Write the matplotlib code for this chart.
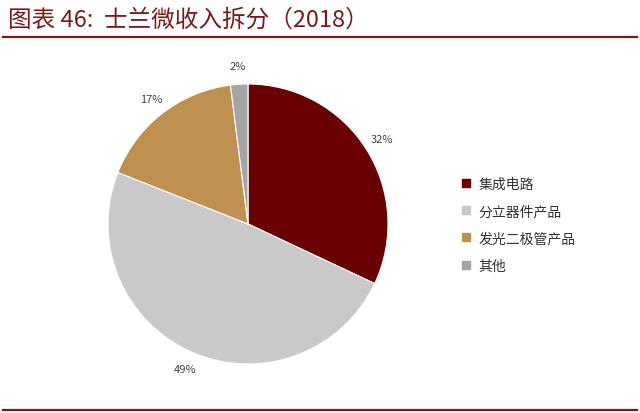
import matplotlib.pyplot as plt
from matplotlib.lines import Line2D

plt.rcParams['font.family'] = ['Noto Sans CJK SC', 'DejaVu Sans']

# data
categories = ['集成电路', '分立器件产品', '发光二极管产品', '其他']
shares = [32, 49, 17, 2]
colors = ['#6B0000', '#C9C9C9', '#BF9150', '#A5A5A5']
title = '图表 46:  士兰微收入拆分（2018）'

fig = plt.figure(figsize=(6.4, 4.14), dpi=100)

# title and rules
fig.text(0.012, 0.952, title, fontsize=17, color='#7A1A1A', va='center', ha='left')
fig.add_artist(Line2D([0.005, 0.995], [0.909, 0.909], color='#7A1A1A', lw=1.6))
fig.add_artist(Line2D([0.005, 0.995], [0.007, 0.007], color='#7A1A1A', lw=1.6))

ax = fig.add_axes([0.16875, 0.1184, 0.4375, 0.6763])
wedges, texts, autotexts = ax.pie(
    shares, colors=colors, startangle=90, counterclock=False,
    autopct='%d%%', pctdistance=1.13,
    wedgeprops=dict(edgecolor='white', linewidth=0.8),
    textprops=dict(fontsize=8, color='#404040'))
ax.set_xlim(-1, 1)
ax.set_ylim(-1, 1)
ax.set_aspect('equal')

handles = [Line2D([], [], marker='s', linestyle='', markersize=6,
                  markerfacecolor=c, markeredgecolor=c) for c in colors]
leg = fig.legend(handles, categories, loc='center left',
                 bbox_to_anchor=(0.70, 0.455), frameon=False,
                 fontsize=10, handlelength=0.8, handletextpad=0.5,
                 labelspacing=0.95, labelcolor='#333333')

fig.savefig('out.png', dpi=100)
